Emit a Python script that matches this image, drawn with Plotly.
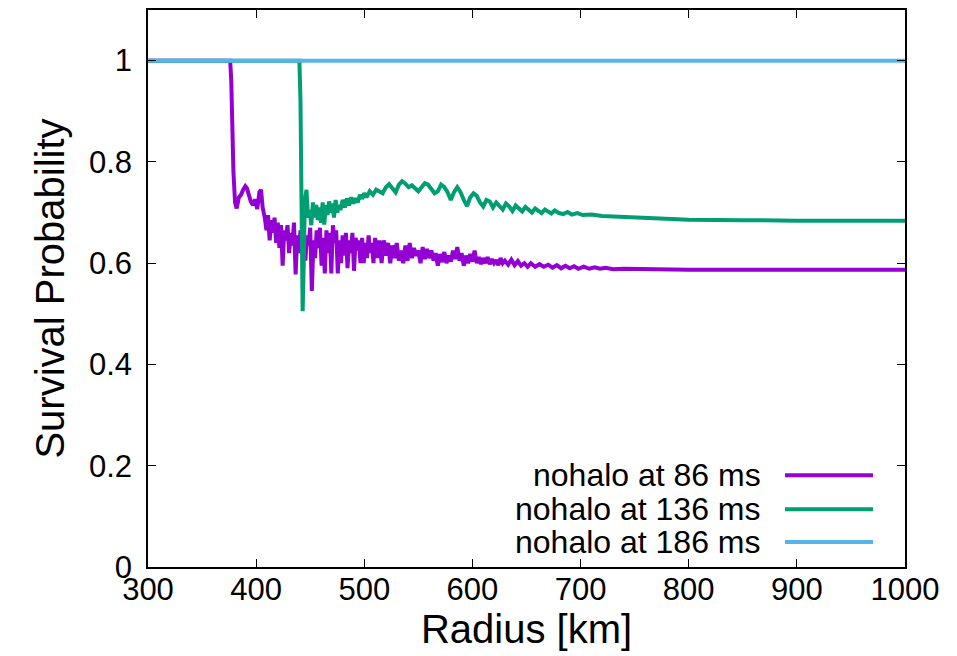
import plotly.graph_objects as go

# ---- data ----
r86 = [300, 376, 377, 378, 379, 380.5, 382, 384, 386, 388, 390, 391.5, 393, 395, 397, 399, 401, 403, 404.5, 406, 408,
       409.5, 411, 412.5, 414, 415.5, 417, 418.5, 420, 421.5, 423, 424.5, 426, 427.5, 429, 430.5, 432, 433.5, 435,
       436.5, 438, 439.5, 441, 442.5, 444, 445.5, 447, 448.5, 450, 451.5, 453, 454.5, 456, 457.5, 459, 460.5, 462,
       463.5, 465, 466.5, 468, 469.5, 471, 472.5, 474, 475.5, 477, 478.5, 480, 481.5, 483, 484.5, 486, 487.5, 489,
       490.5, 492, 493.5, 495, 496.5, 498, 499.5, 501, 502.5, 504, 505.5, 507, 508.5, 510, 512, 514, 516, 518, 520,
       522, 524, 526, 528, 530, 532, 534, 536, 538, 540, 542, 544, 546, 548, 550, 552, 554, 556, 558, 560, 562, 564,
       566, 568, 570, 572, 574, 576, 578, 580, 582, 584, 586, 588, 590, 592, 594, 596, 598, 600, 602, 604, 606, 608,
       610, 612, 614, 616, 618, 620, 622, 624, 626, 628, 630, 633, 636, 639, 642, 645, 648, 651, 654, 658, 662, 666,
       670, 674, 678, 682, 686, 690, 694, 698, 703, 708, 713, 718, 723, 730, 740, 760, 800, 900, 1000]
p86 = [1.0, 1.0, 0.96, 0.86, 0.78, 0.72, 0.708, 0.73, 0.735, 0.745, 0.752, 0.748, 0.735, 0.722, 0.715, 0.726, 0.707,
       0.74, 0.745, 0.71, 0.69,
       0.665, 0.695, 0.645, 0.685, 0.66, 0.69, 0.64, 0.68, 0.63, 0.675, 0.595, 0.665, 0.645, 0.675, 0.62, 0.66, 0.635,
       0.68, 0.578, 0.655, 0.62, 0.665, 0.63, 0.66, 0.605, 0.655, 0.635, 0.67, 0.545, 0.645, 0.61, 0.665, 0.63, 0.67,
       0.595, 0.65, 0.58, 0.665, 0.62, 0.66, 0.58, 0.675, 0.64, 0.665, 0.58, 0.645, 0.6, 0.655, 0.615, 0.66, 0.59,
       0.645, 0.62, 0.66, 0.585, 0.65, 0.625, 0.645, 0.6, 0.65, 0.6, 0.64, 0.61, 0.655, 0.62, 0.64, 0.6, 0.65, 0.61,
       0.645, 0.6, 0.645, 0.615, 0.64, 0.6, 0.635, 0.61, 0.64, 0.605, 0.625, 0.6, 0.635, 0.605, 0.64, 0.61, 0.63,
       0.615, 0.625, 0.6, 0.632, 0.608, 0.628, 0.61, 0.625, 0.605, 0.62, 0.595, 0.618, 0.602, 0.622, 0.6, 0.615,
       0.603, 0.625, 0.608, 0.632, 0.605, 0.62, 0.595, 0.615, 0.6, 0.618, 0.603, 0.625, 0.6, 0.612, 0.598, 0.61, 0.6,
       0.612, 0.598, 0.608, 0.6, 0.606, 0.596, 0.61, 0.6, 0.605, 0.597, 0.607, 0.596, 0.604, 0.595, 0.6, 0.593, 0.6,
       0.593, 0.598, 0.593, 0.597, 0.591, 0.596, 0.59, 0.595, 0.59, 0.594, 0.589, 0.593, 0.589, 0.592, 0.589, 0.591,
       0.588, 0.589, 0.588, 0.587, 0.587, 0.587]

r136 = [300, 440, 441, 442, 443, 444, 445, 446.5, 448, 449.5, 451, 452.5, 454, 455.5, 457, 458.5, 460, 461.5, 463,
        464.5, 466, 467.5, 469, 470.5, 472, 473.5, 475, 476.5, 478, 480, 482, 484, 486, 488, 490, 492, 494, 496, 498,
        500, 502, 505, 508, 511, 514, 517, 520, 523, 526, 529, 532, 535, 538, 541, 544, 547, 550, 553, 556, 559, 562,
        565, 568, 571, 574, 577, 580, 583, 586, 589, 592, 595, 598, 601, 604, 607, 610, 613, 616, 619, 622, 625, 628,
        631, 634, 637, 640, 643, 646, 649, 652, 655, 658, 661, 664, 667, 670, 673, 676, 680, 684, 688, 692, 697, 702,
        710, 720, 740, 760, 780, 800, 850, 900, 1000]
p136 = [1.0, 1.0, 0.92, 0.7, 0.505, 0.6, 0.72, 0.745, 0.69, 0.705, 0.675, 0.72, 0.69, 0.715, 0.685, 0.71, 0.68, 0.72,
        0.676, 0.715, 0.695, 0.722, 0.7, 0.718, 0.69, 0.725, 0.7, 0.715, 0.705, 0.725, 0.71, 0.728, 0.714, 0.73, 0.718,
        0.728, 0.72, 0.735, 0.727, 0.738, 0.73, 0.742, 0.735, 0.745, 0.742, 0.738, 0.75, 0.756, 0.748, 0.74, 0.755,
        0.762, 0.757, 0.75, 0.754, 0.749, 0.742, 0.75, 0.758, 0.755, 0.745, 0.738, 0.742, 0.755, 0.75, 0.74, 0.725,
        0.74, 0.75, 0.74, 0.725, 0.713, 0.73, 0.738, 0.733, 0.72, 0.712, 0.725, 0.722, 0.71, 0.72, 0.712, 0.706, 0.718,
        0.712, 0.703, 0.714, 0.708, 0.702, 0.711, 0.706, 0.7, 0.708, 0.703, 0.699, 0.706, 0.701, 0.698, 0.704, 0.699,
        0.697, 0.701, 0.696, 0.699, 0.695, 0.696, 0.693, 0.691, 0.689, 0.687, 0.686, 0.685, 0.684, 0.684]

r186 = [300, 1000]
p186 = [1.0, 1.0]

names = ["nohalo at 86 ms", "nohalo at 136 ms", "nohalo at 186 ms"]
colors = ["#9400D3", "#009E73", "#56B4E9"]
x_ticks = [300, 400, 500, 600, 700, 800, 900, 1000]
y_ticks = [0, 0.2, 0.4, 0.6, 0.8, 1]
y_tick_text = ["0", "0.2", "0.4", "0.6", "0.8", "1"]

FONT = "Liberation Sans, Arial, Helvetica, sans-serif"

fig = go.Figure()
for xs, ys, nm, c in zip([r86, r136, r186], [p86, p136, p186], names, colors):
    fig.add_trace(go.Scatter(x=xs, y=ys, mode="lines", name=nm,
                             line=dict(color=c, width=4), showlegend=False))

# gnuplot-style legend: right-aligned text with sample line to its right
leg_y = [0.1646, 0.1038, 0.0447]
for nm, c, yy in zip(names, colors, leg_y):
    fig.add_annotation(x=0.8124, y=yy, xref="paper", yref="paper", text=nm, showarrow=False,
                       xanchor="right", yanchor="middle", font=dict(family=FONT, size=32, color="black"))
    fig.add_shape(type="line", xref="paper", yref="paper", x0=0.8415, x1=0.9577, y0=yy, y1=yy,
                  line=dict(color=c, width=4))

axis_common = dict(showline=True, linecolor="black", linewidth=1.5, mirror="ticks", ticks="inside",
                    ticklen=8, tickcolor="black", tickwidth=1, showgrid=False, zeroline=False,
                    tickfont=dict(family=FONT, size=31, color="black"))

fig.update_xaxes(range=[300, 1000], tickvals=x_ticks, ticklabelstandoff=-6,
                 title=dict(text="Radius [km]", font=dict(family=FONT, size=40, color="black"), standoff=8),
                 **axis_common)
fig.update_yaxes(range=[0, 1.1], tickvals=y_ticks, ticktext=y_tick_text, ticklabelstandoff=8,
                 title=dict(text="Survival Probability", font=dict(family=FONT, size=40, color="black"), standoff=12),
                 **axis_common)

fig.update_layout(width=957, height=656, margin=dict(l=148, r=52, t=8, b=89),
                  paper_bgcolor="white", plot_bgcolor="white")

fig.write_html("out.html")
